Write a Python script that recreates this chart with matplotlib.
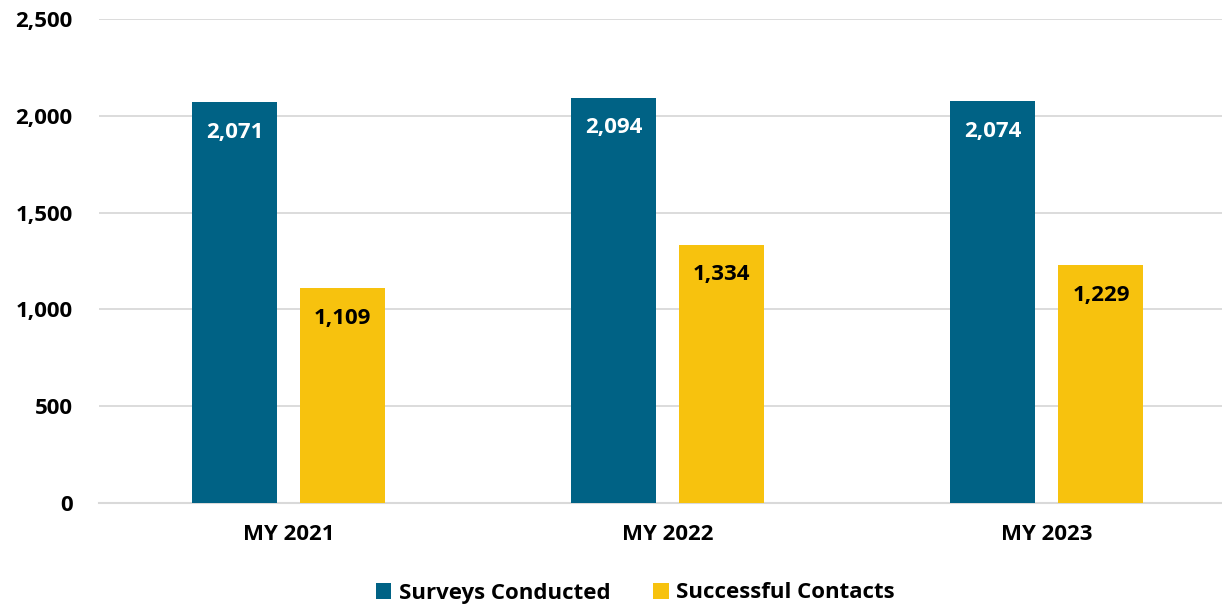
import matplotlib.pyplot as plt
import numpy as np

plt.rcParams['font.family'] = ['Open Sans', 'DejaVu Sans']
plt.rcParams['font.weight'] = 'bold'

years = ["MY 2021", "MY 2022", "MY 2023"]
surveys = [2071, 2094, 2074]
contacts = [1109, 1334, 1229]
series_names = ["Surveys Conducted", "Successful Contacts"]

blue = "#006285"
yellow = "#F7C20E"

fig = plt.figure(figsize=(12.22, 6.08), dpi=100)
# axes in pixel terms: left 99, right 1222, bottom y=503, top y=19
ax = fig.add_axes([99 / 1222, (608 - 503) / 608, (1222 - 99) / 1222, (503 - 19) / 608])

x = np.arange(len(years))
w = 0.224
off = 0.1425
b1 = ax.bar(x - off, surveys, w, color=blue, label=series_names[0], zorder=3)
b2 = ax.bar(x + off, contacts, w, color=yellow, label=series_names[1], zorder=3)

for rect, v in zip(b1, surveys):
    ax.text(rect.get_x() + rect.get_width() / 2, v - 155, f"{v:,}", ha='center', va='center',
            color='white', fontsize=16, fontweight='bold', zorder=4)
for rect, v in zip(b2, contacts):
    ax.text(rect.get_x() + rect.get_width() / 2, v - 155, f"{v:,}", ha='center', va='center',
            color='black', fontsize=16, fontweight='bold', zorder=4)

ax.set_ylim(0, 2500)
ax.set_yticks(np.arange(0, 2501, 500))
ax.set_yticklabels([f"{t:,}" for t in range(0, 2501, 500)])
ax.set_xlim(-0.5, 2.5 - 14.5 / 379)
ax.set_xticks(x)
ax.set_xticklabels(years)

ax.grid(axis='y', color='#D9D9D9', linewidth=1.3, zorder=0)
for s in ['top', 'right', 'left']:
    ax.spines[s].set_visible(False)
ax.spines['bottom'].set_color('#D9D9D9')
ax.spines['bottom'].set_linewidth(1.5)
ax.tick_params(axis='both', length=0, labelsize=16)
ax.tick_params(axis='y', pad=19)
ax.tick_params(axis='x', pad=15)

leg = fig.legend(loc='center', bbox_to_anchor=(0.52, 1 - 593 / 608), ncol=2, frameon=False,
                 fontsize=16, handlelength=0.7, handleheight=0.7, columnspacing=1.9,
                 handletextpad=0.35)

fig.savefig("out.png", dpi=100)
